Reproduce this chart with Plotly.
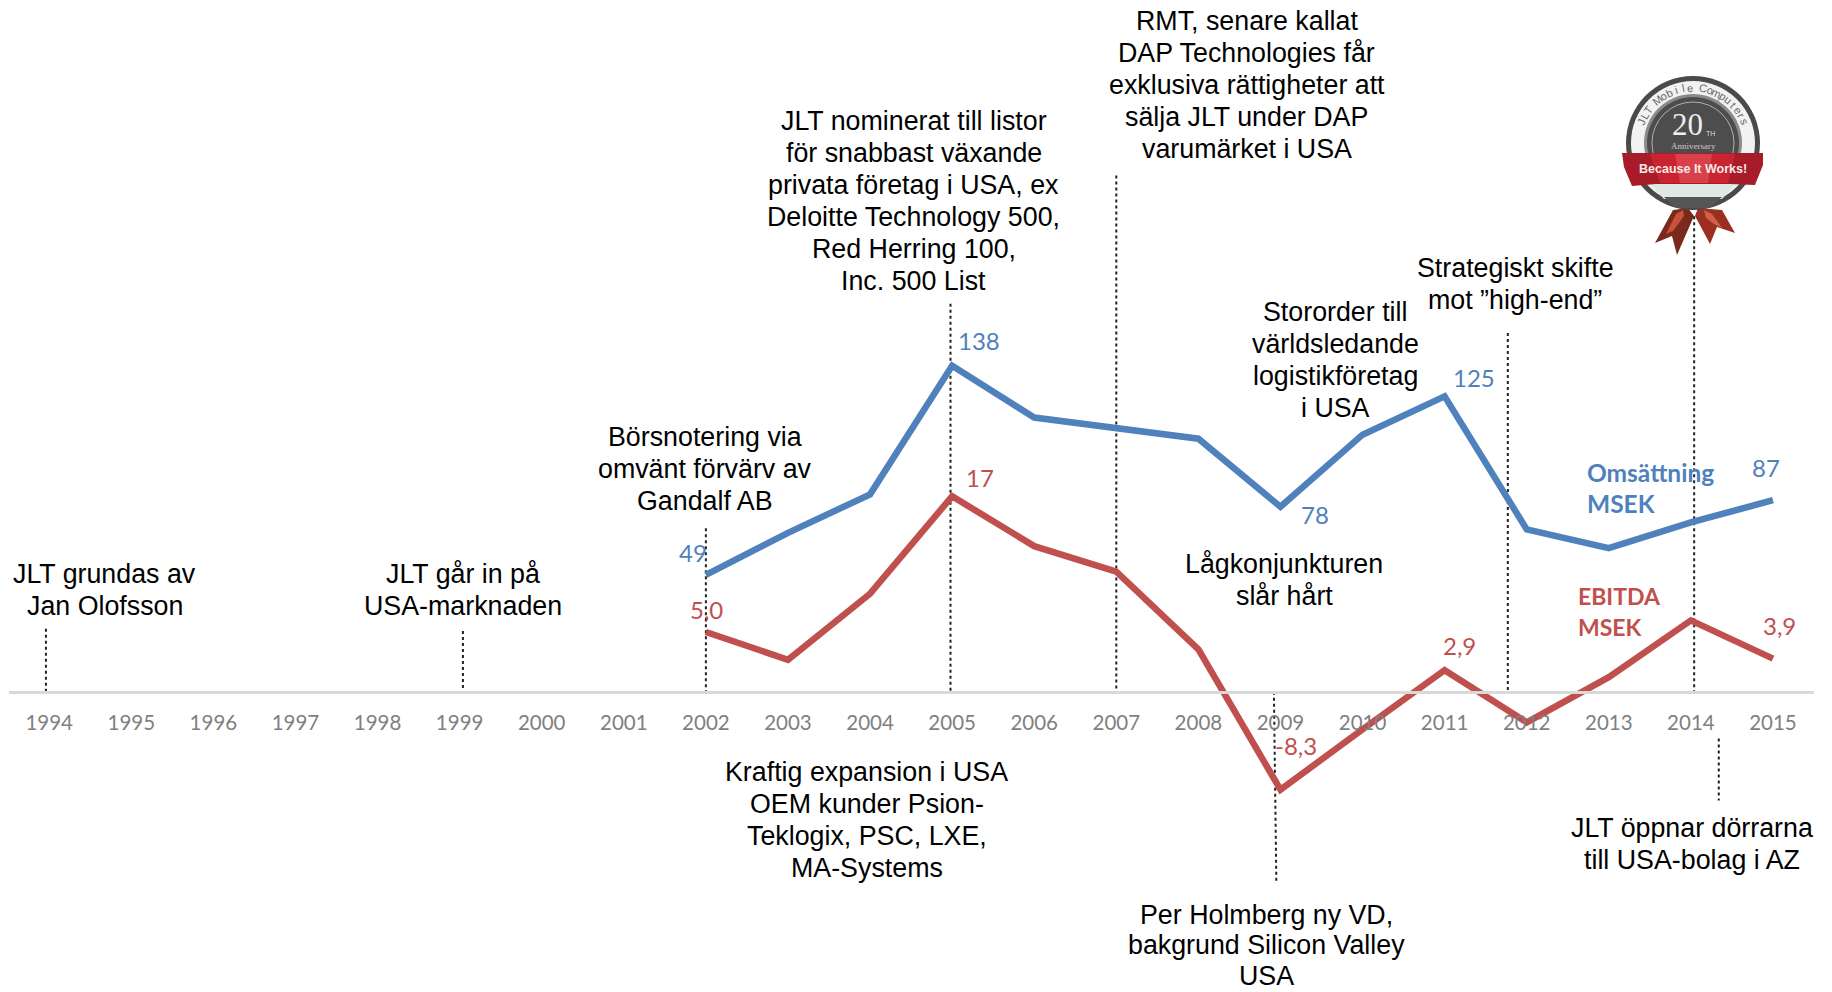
import math
import plotly.graph_objects as go

W, H = 1832, 992
S = 1832 / 1568  # shrunk-to-full factor used to read the picture

years = list(range(1994, 2016))
line_years = list(range(2002, 2016))
revenue = [49, 66.9, 83.3, 138, 116, 111.7, 107, 78, 108.7, 125, 68.4, 60.4, 71.4, 80.8]
ebitda = [5.3, 2.9, 8.6, 17, 12.7, 10.5, 3.8, -8.3, -3.1, 2.0, -2.5, 1.4, 6.3, 3.0]

rev_labels = [("49", 2002, 49, -13, 22), ("138", 2005, 138, 27, 25), ("78", 2009, 78, 35, -8),
              ("125", 2011, 125, 29, 19), ("87", 2015, 80.8, -7, 33)]
ebit_labels = [("5,0", 2002, 5.3, 1, 22), ("17", 2005, 17, 28, 19), ("-8,3", 2009, -8.3, 16, 44),
               ("2,9", 2011, 2.0, 15, 25), ("3,9", 2015, 3.0, 7, 33)]

# year, top, bottom (on the revenue scale)
leaders = [(1993.96, 26.1, -0.7), (1999.04, 25.1, -0.7), (2002.0, 68.9, -0.7), (2004.98, 164.4, -0.7),
           (2007.0, 219, -0.7), (2011.77, 152, -0.7), (2014.04, 201.7, -0.7),
           (2014.34, -20.6, -47)]
leader_2009 = [(2008.92, -0.7), (2008.95, -82.3)]

notes = [
    (["JLT grundas av", "Jan Olofsson"], 89.5, 491, 27.4),
    (["JLT går in på", "USA-marknaden"], 396, 491, 27.4),
    (["Börsnotering via", "omvänt förvärv av", "Gandalf AB"], 603, 374, 27.4),
    (["JLT nominerat till listor", "för snabbast växande", "privata företag i USA, ex",
      "Deloitte Technology 500,", "Red Herring 100,", "Inc. 500 List"], 782, 103.5, 27.4),
    (["RMT, senare kallat", "DAP Technologies får", "exklusiva rättigheter att",
      "sälja JLT under DAP", "varumärket i USA"], 1067, 18, 27.4),
    (["Stororder till", "världsledande", "logistikföretag", "i USA"], 1143, 267, 27.4),
    (["Strategiskt skifte", "mot ”high-end”"], 1297, 229, 27.4),
    (["Lågkonjunkturen", "slår hårt"], 1099, 483, 27.4),
    (["Kraftig expansion i USA", "OEM kunder Psion-", "Teklogix, PSC, LXE,", "MA-Systems"], 742, 661, 27.4),
    (["Per Holmberg ny VD,", "bakgrund Silicon Valley", "USA"], 1084, 783, 26),
    (["JLT öppnar dörrarna", "till USA-bolag i AZ"], 1448, 709, 27.4),
]

BLUE, RED = "#4f81bd", "#c0504d"
BASE_PX = 691.5
px_x = lambda p: p / W
px_y = lambda p: 1 - p / H

fig = go.Figure()
fig.add_trace(go.Scatter(x=line_years, y=revenue, mode="lines", line=dict(color=BLUE, width=6.5),
                         hoverinfo="skip", yaxis="y"))
fig.add_trace(go.Scatter(x=line_years, y=ebitda, mode="lines", line=dict(color=RED, width=6.5),
                         hoverinfo="skip", yaxis="y2"))

ann = []
for lines, x, y, pitch in notes:
    for i, t in enumerate(lines):
        ann.append(dict(text=t, x=px_x(x * S), y=px_y((y + i * pitch) * S), xref="paper", yref="paper",
                        showarrow=False, xanchor="center", yanchor="middle", align="center",
                        font=dict(family="Liberation Sans", size=26.8, color="#000000")))
for t, x, y, dx, dy in rev_labels:
    ann.append(dict(text=t, x=x, y=y, xref="x", yref="y", xshift=dx, yshift=dy, showarrow=False,
                    font=dict(family="Lato", size=24, color=BLUE)))
for t, x, y, dx, dy in ebit_labels:
    ann.append(dict(text=t, x=x, y=y, xref="x", yref="y2", xshift=dx, yshift=dy, showarrow=False,
                    font=dict(family="Lato", size=24, color=RED)))
for txt, x, y, sz, col in [("Omsättning", 1357, 404, 24.5, BLUE), ("MSEK", 1357, 431, 24.5, BLUE),
                           ("EBITDA", 1349, 510, 23, RED), ("MSEK", 1349, 537, 23, RED)]:
    ann.append(dict(text=f"<b>{txt}</b>", x=px_x(x * S), y=px_y(y * S), xref="paper", yref="paper",
                    showarrow=False, xanchor="left", yanchor="middle", font=dict(family="Lato", size=sz, color=col)))

shapes = []
for x, a, b in leaders:
    shapes.append(dict(type="line", xref="x", yref="y", x0=x, x1=x, y0=a, y1=b, layer="below",
                       line=dict(color="#222222", width=2, dash="dot")))
shapes.append(dict(type="line", xref="x", yref="y", x0=leader_2009[0][0], x1=leader_2009[1][0],
                   y0=leader_2009[0][1], y1=leader_2009[1][1], layer="below",
                   line=dict(color="#222222", width=2, dash="dot")))

# ---- 20th anniversary medal, built from shapes and text
CX, CY = 1693, 143


def circle(r, fill, line=None, lw=0):
    return dict(type="circle", xref="paper", yref="paper", x0=px_x(CX - r), x1=px_x(CX + r),
                y0=px_y(CY + r), y1=px_y(CY - r), fillcolor=fill, line=dict(color=line or fill, width=lw),
                layer="below")


def poly(pts, fill):
    d = "M " + " L ".join(f"{px_x(a):.5f},{px_y(b):.5f}" for a, b in pts) + " Z"
    return dict(type="path", xref="paper", yref="paper", path=d, fillcolor=fill, line=dict(width=0), layer="below")


shapes += [
    poly([(1688, 208), (1673, 210), (1655, 243), (1672, 236), (1677, 255), (1694, 216)], "#7a2a1c"),
    poly([(1698, 208), (1722, 210), (1735, 233), (1717, 227), (1710, 244), (1695, 216)], "#9c3020"),
    poly([(1683, 210), (1676, 214), (1666, 234), (1673, 231), (1684, 216)], "#c9503a"),
    poly([(1704, 210), (1712, 214), (1722, 228), (1714, 224), (1706, 218)], "#d0604a"),
    circle(67, "#4a4a4a"),
    circle(62, "#f2f2f2"),
    circle(49, "#8a8a8a"),
    circle(46, "#4d4d4d"),
    circle(41, "#4d4d4d", "#b0b0b0", 1),
    poly([(1650, 184), (1736, 184), (1722, 199), (1664, 199)], "#dfe8e2"),
    poly([(1664, 197), (1722, 197), (1710, 208), (1676, 208)], "#555555"),
    poly([(1622, 153), (1763, 153), (1763, 165), (1755, 185), (1730, 184), (1656, 184), (1632, 186), (1624, 167)], "#a81c2a"),
    poly([(1650, 154), (1735, 154), (1728, 183), (1660, 183)], "#c9242f"),
    poly([(1675, 154), (1712, 154), (1708, 183), (1680, 183)], "#d8404a"),
]
medal_text = [("20", 1687, 125, "Liberation Serif", 31, "#eeeeee"),
              ("TH", 1710, 134, "Liberation Sans", 7, "#dddddd"),
              ("Anniversary", 1693, 146, "Liberation Serif", 9, "#cccccc"),
              ("<b>Because It Works!</b>", 1693, 169, "Liberation Sans", 12.5, "#f7e9e9")]
for t, x, y, fam, sz, col in medal_text:
    ann.append(dict(text=t, x=px_x(x), y=px_y(y), xref="paper", yref="paper", showarrow=False,
                    xanchor="center", yanchor="middle", font=dict(family=fam, size=sz, color=col)))
arc_text = "JLT Mobile Computers"
for i, ch in enumerate(arc_text):
    a = -68 + i * 136 / (len(arc_text) - 1)
    ann.append(dict(text=ch, x=px_x(CX + 55.5 * math.sin(math.radians(a))),
                    y=px_y(CY - 55.5 * math.cos(math.radians(a))), xref="paper", yref="paper",
                    showarrow=False, xanchor="center", yanchor="middle", textangle=a,
                    font=dict(family="Liberation Sans", size=11, color="#666666")))

fig.update_layout(
    width=W, height=H, margin=dict(l=0, r=0, t=0, b=0), autosize=False,
    paper_bgcolor="#ffffff", plot_bgcolor="#ffffff", showlegend=False,
    xaxis=dict(domain=[9 / W, 1814 / W], range=[1993.51, 2015.5], anchor="free", position=1 - BASE_PX / H,
               tickmode="array", tickvals=years, ticktext=[str(y) for y in years], ticks="", showgrid=False,
               zeroline=False, showline=True, linecolor="#d9d9d9", linewidth=3, ticklabelstandoff=12,
               tickfont=dict(family="Lato", size=20.5, color="#7f7f7f")),
    yaxis=dict(domain=[0, 1], range=[-128.5, 293.7], visible=False),
    yaxis2=dict(domain=[0, 1], range=[-25.75, 59.8], visible=False, overlaying="y"),
    annotations=ann, shapes=shapes,
)
fig.write_html("out.html", post_script="document.body.style.margin='0';", config=dict(displayModeBar=False))
